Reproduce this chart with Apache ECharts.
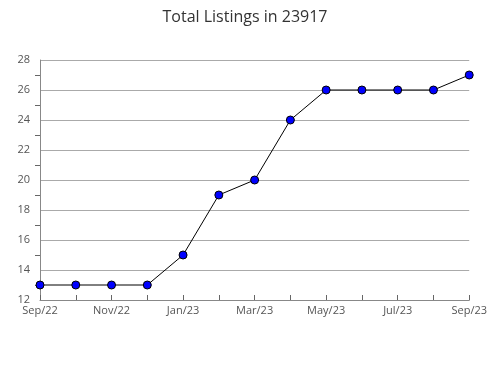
<!DOCTYPE html>
<html><head><meta charset="utf-8">
<script src="https://cdn.jsdelivr.net/npm/echarts@6/dist/echarts.min.js"></script>
<style>html,body{margin:0;padding:0;background:#fff}#c{width:490px;height:380px}</style>
</head><body><div id="c"></div>
<script>
const categories = ['Sep/22','Oct/22','Nov/22','Dec/22','Jan/23','Feb/23','Mar/23','Apr/23','May/23','Jun/23','Jul/23','Aug/23','Sep/23'];
const listings = [13,13,13,13,15,19,20,24,26,26,26,26,27];
const yMin = 12, yMax = 28, yStep = 2;

const chart = echarts.init(document.getElementById('c'));
chart.setOption({
  animation: false,
  title: {text: 'Total Listings in 23917', left: 'center', top: 4,
    textStyle: {fontFamily: 'Open Sans', fontSize: 16, fontWeight: 'normal', color: '#333'}},
  grid: {left: 40, right: 18, top: 60, bottom: 80},
  xAxis: {type: 'category', data: categories, boundaryGap: false,
    axisLine: {lineStyle: {color: '#888'}},
    axisTick: {inside: true, length: 5, lineStyle: {color: '#666'}, interval: 0},
    axisLabel: {interval: 1, color: '#555', fontFamily: 'Open Sans', fontSize: 11, margin: 5},
    splitLine: {show: false}},
  yAxis: {type: 'value', min: yMin, max: yMax, interval: yStep,
    axisLine: {show: true, lineStyle: {color: '#888'}},
    axisTick: {show: false},
    minorTick: {show: true, splitNumber: 2, length: 5, lineStyle: {color: '#666'}},
    axisLabel: {color: '#555', fontFamily: 'Open Sans', fontSize: 11, margin: 10},
    splitLine: {lineStyle: {color: '#aaa'}}},
  series: [{type: 'line', data: listings,
    lineStyle: {color: '#000', width: 1},
    symbol: 'circle', symbolSize: 8,
    itemStyle: {color: '#0000ff', borderColor: '#000', borderWidth: 1}}]
});
</script></body></html>
